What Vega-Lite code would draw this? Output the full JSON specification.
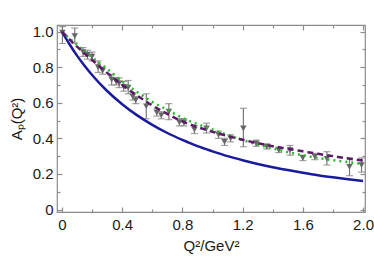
{
 "$schema": "https://vega.github.io/schema/vega-lite/v6.json",
 "width": 308, "height": 187,
 "autosize": {"type": "none"},
 "padding": {"left": 57, "top": 25, "right": 9, "bottom": 52},
 "background": "white",
 "config": {
   "view": {"stroke": "#8c8c8c", "strokeWidth": 1.2},
   "axis": {"domain": false, "grid": false, "tickColor": "#8c8c8c", "tickWidth": 1.2, "labelFont": "Liberation Sans", "labelFontSize": 15, "labelColor": "#1a1a1a", "titleFont": "Liberation Sans", "titleFontSize": 15, "titleFontWeight": "normal", "titleColor": "#1a1a1a"}
 },
 "datasets": {
  "pts": [
   {"q": 0.003, "a": 0.995, "lo": 0.933, "hi": 1.028},
   {"q": 0.085, "a": 0.975, "lo": 0.935, "hi": 1.02},
   {"q": 0.14, "a": 0.885, "lo": 0.86, "hi": 0.91},
   {"q": 0.17, "a": 0.87, "lo": 0.845, "hi": 0.895},
   {"q": 0.2, "a": 0.86, "lo": 0.835, "hi": 0.885},
   {"q": 0.24, "a": 0.8, "lo": 0.77, "hi": 0.835},
   {"q": 0.27, "a": 0.78, "lo": 0.76, "hi": 0.8},
   {"q": 0.33, "a": 0.73, "lo": 0.7, "hi": 0.76},
   {"q": 0.36, "a": 0.72, "lo": 0.7, "hi": 0.74},
   {"q": 0.38, "a": 0.71, "lo": 0.685, "hi": 0.74},
   {"q": 0.41, "a": 0.69, "lo": 0.665, "hi": 0.72},
   {"q": 0.44, "a": 0.685, "lo": 0.65, "hi": 0.725},
   {"q": 0.47, "a": 0.635, "lo": 0.615, "hi": 0.655},
   {"q": 0.49, "a": 0.615, "lo": 0.595, "hi": 0.635},
   {"q": 0.56, "a": 0.58, "lo": 0.51, "hi": 0.65},
   {"q": 0.63, "a": 0.545, "lo": 0.525, "hi": 0.565},
   {"q": 0.66, "a": 0.53, "lo": 0.51, "hi": 0.55},
   {"q": 0.71, "a": 0.55, "lo": 0.505, "hi": 0.595},
   {"q": 0.78, "a": 0.49, "lo": 0.47, "hi": 0.51},
   {"q": 0.81, "a": 0.49, "lo": 0.47, "hi": 0.51},
   {"q": 0.88, "a": 0.45, "lo": 0.427, "hi": 0.473},
   {"q": 0.96, "a": 0.456, "lo": 0.43, "hi": 0.485},
   {"q": 1.04, "a": 0.42, "lo": 0.4, "hi": 0.44},
   {"q": 1.08, "a": 0.38, "lo": 0.36, "hi": 0.4},
   {"q": 1.12, "a": 0.4, "lo": 0.38, "hi": 0.42},
   {"q": 1.205, "a": 0.456, "lo": 0.353, "hi": 0.569},
   {"q": 1.29, "a": 0.372, "lo": 0.355, "hi": 0.39},
   {"q": 1.36, "a": 0.353, "lo": 0.34, "hi": 0.37},
   {"q": 1.44, "a": 0.334, "lo": 0.32, "hi": 0.35},
   {"q": 1.515, "a": 0.334, "lo": 0.305, "hi": 0.36},
   {"q": 1.6, "a": 0.29, "lo": 0.275, "hi": 0.305},
   {"q": 1.68, "a": 0.297, "lo": 0.28, "hi": 0.315},
   {"q": 1.76, "a": 0.285, "lo": 0.25, "hi": 0.325},
   {"q": 1.91, "a": 0.24, "lo": 0.19, "hi": 0.29},
   {"q": 1.99, "a": 0.25, "lo": 0.21, "hi": 0.29}
  ],
  "curves": [
   {"m": "blue", "q": 0, "a": 1}, {"m": "blue", "q": 0.05, "a": 0.929}, {"m": "blue", "q": 0.1, "a": 0.865}, {"m": "blue", "q": 0.15, "a": 0.808}, {"m": "blue", "q": 0.2, "a": 0.756}, {"m": "blue", "q": 0.3, "a": 0.666}, {"m": "blue", "q": 0.4, "a": 0.592}, {"m": "blue", "q": 0.5, "a": 0.529}, {"m": "blue", "q": 0.6, "a": 0.476}, {"m": "blue", "q": 0.7, "a": 0.43}, {"m": "blue", "q": 0.8, "a": 0.391}, {"m": "blue", "q": 0.9, "a": 0.356}, {"m": "blue", "q": 1.0, "a": 0.327}, {"m": "blue", "q": 1.1, "a": 0.3}, {"m": "blue", "q": 1.2, "a": 0.277}, {"m": "blue", "q": 1.3, "a": 0.256}, {"m": "blue", "q": 1.4, "a": 0.238}, {"m": "blue", "q": 1.5, "a": 0.222}, {"m": "blue", "q": 1.6, "a": 0.207}, {"m": "blue", "q": 1.7, "a": 0.193}, {"m": "blue", "q": 1.8, "a": 0.181}, {"m": "blue", "q": 1.9, "a": 0.17}, {"m": "blue", "q": 2.0, "a": 0.16},
   {"m": "purple", "q": 0, "a": 1}, {"m": "purple", "q": 0.1, "a": 0.915}, {"m": "purple", "q": 0.2, "a": 0.84}, {"m": "purple", "q": 0.3, "a": 0.768}, {"m": "purple", "q": 0.4, "a": 0.7}, {"m": "purple", "q": 0.5, "a": 0.64}, {"m": "purple", "q": 0.6, "a": 0.585}, {"m": "purple", "q": 0.7, "a": 0.537}, {"m": "purple", "q": 0.8, "a": 0.495}, {"m": "purple", "q": 0.9, "a": 0.463}, {"m": "purple", "q": 1.0, "a": 0.437}, {"m": "purple", "q": 1.1, "a": 0.413}, {"m": "purple", "q": 1.2, "a": 0.392}, {"m": "purple", "q": 1.3, "a": 0.373}, {"m": "purple", "q": 1.4, "a": 0.356}, {"m": "purple", "q": 1.5, "a": 0.341}, {"m": "purple", "q": 1.6, "a": 0.327}, {"m": "purple", "q": 1.7, "a": 0.313}, {"m": "purple", "q": 1.8, "a": 0.3}, {"m": "purple", "q": 1.9, "a": 0.287}, {"m": "purple", "q": 2.0, "a": 0.275},
   {"m": "green", "q": 0, "a": 1}, {"m": "green", "q": 0.1, "a": 0.925}, {"m": "green", "q": 0.2, "a": 0.855}, {"m": "green", "q": 0.3, "a": 0.79}, {"m": "green", "q": 0.4, "a": 0.72}, {"m": "green", "q": 0.5, "a": 0.66}, {"m": "green", "q": 0.6, "a": 0.605}, {"m": "green", "q": 0.7, "a": 0.56}, {"m": "green", "q": 0.8, "a": 0.515}, {"m": "green", "q": 0.9, "a": 0.48}, {"m": "green", "q": 1.0, "a": 0.45}, {"m": "green", "q": 1.1, "a": 0.42}, {"m": "green", "q": 1.2, "a": 0.39}, {"m": "green", "q": 1.3, "a": 0.365}, {"m": "green", "q": 1.4, "a": 0.343}, {"m": "green", "q": 1.5, "a": 0.323}, {"m": "green", "q": 1.6, "a": 0.305}, {"m": "green", "q": 1.7, "a": 0.29}, {"m": "green", "q": 1.8, "a": 0.277}, {"m": "green", "q": 1.9, "a": 0.266}, {"m": "green", "q": 2.0, "a": 0.257}
  ]
 },
 "layer": [
  {
   "data": {"name": "pts"},
   "mark": {"type": "rule", "color": "#7a7a7a", "strokeWidth": 1.2},
   "encoding": {
    "x": {"field": "q", "type": "quantitative", "scale": {"domain": [-0.033, 2.013], "nice": false, "zero": false},
          "axis": {"orient": "bottom", "values": [0, 0.4, 0.8, 1.2, 1.6, 2.0], "format": ".1~f", "labelExpr": "datum.value == 0 ? '0' : format(datum.value, '.1f')", "tickSize": -5, "labelPadding": 10, "title": "Q²/GeV²", "titlePadding": 6}},
    "y": {"field": "lo", "type": "quantitative", "scale": {"domain": [-0.014, 1.037], "nice": false, "zero": false},
          "axis": {"orient": "left", "values": [0, 0.2, 0.4, 0.6, 0.8, 1.0], "labelExpr": "datum.value == 0 ? '0' : format(datum.value, '.1f')", "tickSize": -5, "labelPadding": 9, "title": "Aₚ(Q²)", "titlePadding": 8}},
    "y2": {"field": "hi"}
   }
  },
  {
   "data": {"name": "pts"},
   "mark": {"type": "tick", "orient": "horizontal", "color": "#7a7a7a", "size": 7, "thickness": 1.2},
   "encoding": {
    "x": {"field": "q", "type": "quantitative", "axis": {"orient": "top", "values": [0, 0.4, 0.8, 1.2, 1.6, 2.0], "tickSize": -5, "labels": false, "title": null}},
    "y": {"field": "lo", "type": "quantitative", "axis": {"orient": "right", "values": [0, 0.2, 0.4, 0.6, 0.8, 1.0], "tickSize": -5, "labels": false, "title": null}}
   }
  },
  {
   "data": {"name": "pts"},
   "mark": {"type": "tick", "orient": "horizontal", "color": "#7a7a7a", "size": 7, "thickness": 1.2},
   "encoding": {
    "x": {"field": "q", "type": "quantitative", "axis": {"orient": "bottom", "values": [0.2, 0.6, 1.0, 1.4, 1.8], "tickSize": -3, "labels": false, "title": null}},
    "y": {"field": "hi", "type": "quantitative", "axis": {"orient": "left", "values": [0.1, 0.3, 0.5, 0.7, 0.9], "tickSize": -3, "labels": false, "title": null}}
   }
  },
  {
   "data": {"name": "pts"},
   "mark": {"type": "point", "shape": "triangle-down", "filled": true, "color": "#666666", "size": 42, "opacity": 1},
   "encoding": {
    "x": {"field": "q", "type": "quantitative", "axis": {"orient": "top", "values": [0.2, 0.6, 1.0, 1.4, 1.8], "tickSize": -3, "labels": false, "title": null}},
    "y": {"field": "a", "type": "quantitative", "axis": {"orient": "right", "values": [0.1, 0.3, 0.5, 0.7, 0.9], "tickSize": -3, "labels": false, "title": null}}
   }
  },
  {
   "data": {"name": "curves"},
   "transform": [{"filter": "datum.m == 'blue'"}],
   "mark": {"type": "line", "color": "#1a1a9e", "strokeWidth": 2.5, "interpolate": "monotone"},
   "encoding": {
    "x": {"field": "q", "type": "quantitative", "axis": null},
    "y": {"field": "a", "type": "quantitative", "axis": null}
   }
  },
  {
   "data": {"name": "curves"},
   "transform": [{"filter": "datum.m == 'green'"}],
   "mark": {"type": "line", "color": "#2db82d", "strokeWidth": 2.5, "strokeDash": [2, 4], "interpolate": "monotone"},
   "encoding": {
    "x": {"field": "q", "type": "quantitative", "axis": null},
    "y": {"field": "a", "type": "quantitative", "axis": null}
   }
  },
  {
   "data": {"name": "curves"},
   "transform": [{"filter": "datum.m == 'purple'"}],
   "mark": {"type": "line", "color": "#5b1a66", "strokeWidth": 2.5, "strokeDash": [6, 4], "interpolate": "monotone"},
   "encoding": {
    "x": {"field": "q", "type": "quantitative", "axis": null},
    "y": {"field": "a", "type": "quantitative", "axis": null}
   }
  }
 ],
 "resolve": {"axis": {"x": "independent", "y": "independent"}}
}
